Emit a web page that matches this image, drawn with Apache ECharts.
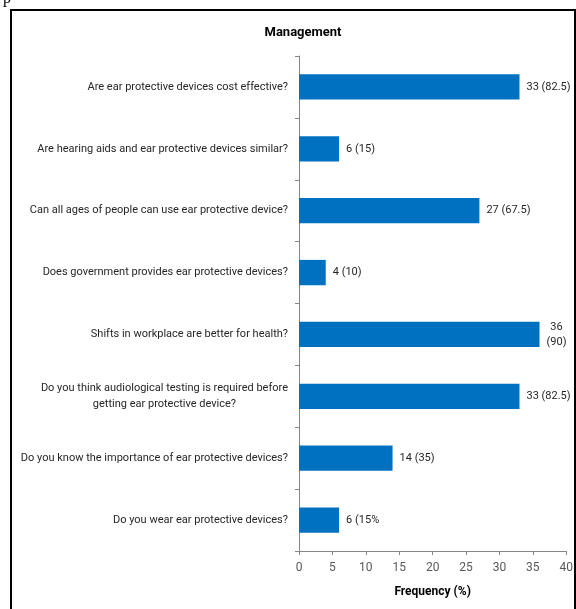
<!DOCTYPE html>
<html>
<head>
<meta charset="utf-8">
<script src="https://cdn.jsdelivr.net/npm/echarts@6/dist/echarts.min.js"></script>
<style>
  html, body { margin: 0; padding: 0; background: #fff; }
  #main { width: 576px; height: 609px; }
</style>
</head>
<body>
<div id="main"></div>
<script>
const questions = [
  'Are ear protective devices cost effective?',
  'Are hearing aids and ear protective devices similar?',
  'Can all ages of people can use ear protective device?',
  'Does government provides ear protective devices?',
  'Shifts in workplace are better for health?',
  'Do you think audiological testing is required before\ngetting ear protective device?',
  'Do you know the importance of ear protective devices?',
  'Do you wear ear protective devices?'
];
const frequency = [33, 6, 27, 4, 36, 33, 14, 6];
const valueLabels = ['33 (82.5)', '6 (15)', '27 (67.5)', '4 (10)', '36\n(90)', '33 (82.5)', '14 (35)', '6 (15%'];
const xTicks = [0, 5, 10, 15, 20, 25, 30, 35, 40];

const font = 'Roboto, "Open Sans", sans-serif';

let myChart = echarts.init(document.getElementById('main'));
myChart.setOption({
  animation: false,
  title: {
    text: 'Management',
    left: 298,
    textAlign: 'center',
    top: 21,
    textStyle: { fontFamily: font, fontSize: 13, fontWeight: 'bold', color: '#000' }
  },
  grid: { left: 299, right: 9, top: 56, bottom: 58, containLabel: false },
  xAxis: {
    type: 'value',
    min: xTicks[0],
    max: xTicks[xTicks.length - 1],
    interval: 5,
    name: 'Frequency (%)',
    nameLocation: 'middle',
    nameGap: 35,
    nameTextStyle: { fontFamily: font, fontSize: 12, fontWeight: 'bold', color: '#000' },
    axisLine: { show: true, lineStyle: { color: '#868686', width: 1 } },
    axisTick: { show: true, length: 4, lineStyle: { color: '#868686' } },
    axisLabel: { fontFamily: font, fontSize: 12, color: '#595959', margin: 11 },
    splitLine: { show: false }
  },
  yAxis: {
    type: 'category',
    inverse: true,
    data: questions,
    axisLine: { show: true, lineStyle: { color: '#868686', width: 1 } },
    axisTick: { show: true, length: 4, lineStyle: { color: '#868686' } },
    axisLabel: {
      fontFamily: font,
      fontSize: 11,
      color: '#262626',
      margin: 11,
      formatter: (v) => v.split('\n').map((s) => '{c|' + s + '}').join('\n'),
      rich: { c: { align: 'center', fontFamily: font, fontSize: 11, color: '#262626', lineHeight: 16 } }
    }
  },
  series: [
    {
      type: 'bar',
      data: frequency,
      barWidth: '41%',
      itemStyle: { color: '#0070C0' },
      label: {
        show: true,
        position: 'right',
        distance: 7,
        formatter: (p) => valueLabels[p.dataIndex].split('\n').map((s) => '{c|' + s + '}').join('\n'),
        rich: { c: { align: 'center', fontFamily: font, fontSize: 11, color: '#262626', lineHeight: 15 } }
      }
    }
  ],
  graphic: [
    {
      type: 'rect',
      shape: { x: 11, y: 10, width: 564, height: 610 },
      style: { fill: 'none', stroke: '#000', lineWidth: 2 }
    },
    {
      type: 'text',
      left: 3,
      top: -9,
      style: { text: 'p', fontFamily: '"Liberation Serif", serif', fontSize: 16, fill: '#000' }
    }
  ]
});

window.onresize = function () {
  myChart.resize();
};
</script>
</body>
</html>
